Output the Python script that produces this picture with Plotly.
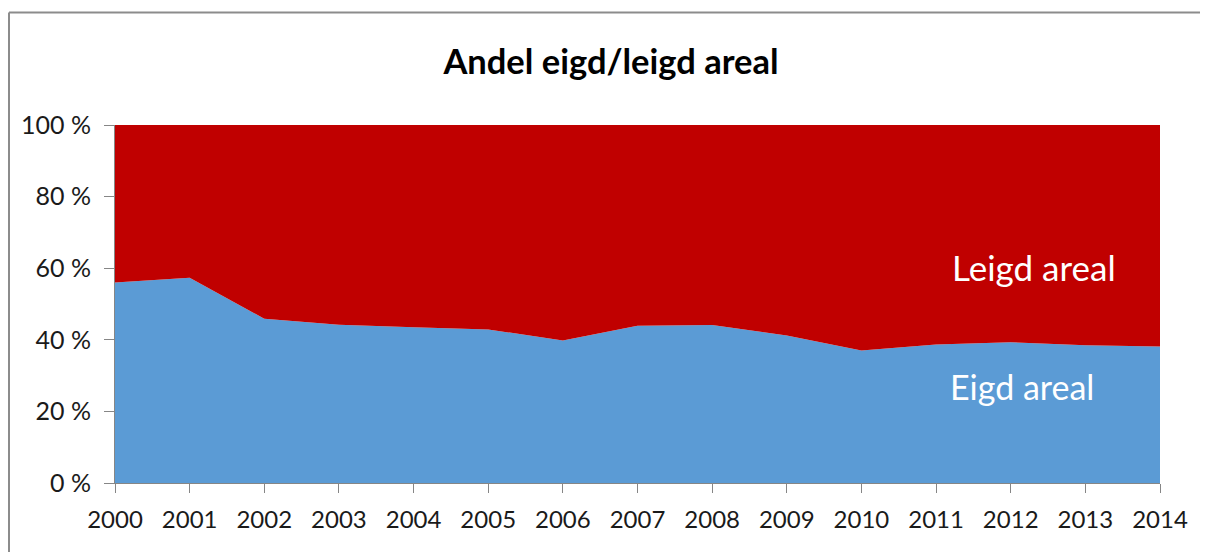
import plotly.graph_objects as go

years = list(range(2000, 2015))
eigd = [56.0, 57.3, 45.9, 44.2, 43.5, 42.9, 39.8, 43.9, 44.1, 41.2, 37.0, 38.7, 39.3, 38.5, 38.1]
leigd = [44.0, 42.7, 54.1, 55.8, 56.5, 57.1, 60.2, 56.1, 55.9, 58.8, 63.0, 61.3, 60.7, 61.5, 61.9]
ytick_vals = [0, 20, 40, 60, 80, 100]
ytick_text = ["0 %", "20 %", "40 %", "60 %", "80 %", "100 %"]

FONT = "Lato"

fig = go.Figure()
fig.add_trace(go.Scatter(x=years, y=eigd, stackgroup="one", mode="none",
                         fillcolor="#5B9BD5", name="Eigd areal", hoverinfo="x+y"))
fig.add_trace(go.Scatter(x=years, y=leigd, stackgroup="one", mode="none",
                         fillcolor="#C00000", name="Leigd areal", hoverinfo="x+y"))

border_top = (483 - 12.5) / 358
border_left = -106 / 1045
border = dict(color="#8c8c8c", width=2)

fig.update_layout(
    width=1200, height=544,
    margin=dict(l=107, r=48, t=117, b=69),
    paper_bgcolor="white", plot_bgcolor="white",
    showlegend=False,
    title=dict(text="<b>Andel eigd/leigd areal</b>", x=(611 - 8) / 1200, xanchor="center",
               y=(544 - 54) / 544, yanchor="middle",
               font=dict(family=FONT, size=34.5, color="black")),
    xaxis=dict(range=[2000, 2014], tickmode="array", tickvals=years,
               ticktext=[str(y) for y in years],
               showgrid=False, zeroline=False, showline=True, linecolor="#868686",
               linewidth=1, ticks="outside", ticklen=9, tickcolor="#868686",
               ticklabelstandoff=6,
               tickfont=dict(family=FONT, size=24, color="#1a1a1a")),
    yaxis=dict(range=[0, 100], tickmode="array", tickvals=ytick_vals, ticktext=ytick_text,
               showgrid=False, zeroline=False, showline=True, linecolor="#868686",
               linewidth=1, ticks="outside", ticklen=10, tickcolor="#868686",
               ticklabelstandoff=8,
               tickfont=dict(family=FONT, size=25, color="#1a1a1a")),
    annotations=[
        dict(x=2012.31, y=60.3, xref="x", yref="y", text="Leigd areal", showarrow=False,
             font=dict(family=FONT, size=35, color="white"), xanchor="center", yanchor="middle"),
        dict(x=2012.15, y=27.0, xref="x", yref="y", text="Eigd areal", showarrow=False,
             font=dict(family=FONT, size=34, color="white"), xanchor="center", yanchor="middle"),
    ],
    shapes=[
        dict(type="line", xref="paper", yref="paper", x0=border_left, x1=1.2,
             y0=border_top, y1=border_top, line=border, layer="below"),
        dict(type="line", xref="paper", yref="paper", x0=border_left, x1=border_left,
             y0=-0.5, y1=border_top, line=border, layer="below"),
    ],
)

fig.write_html("out.html")
